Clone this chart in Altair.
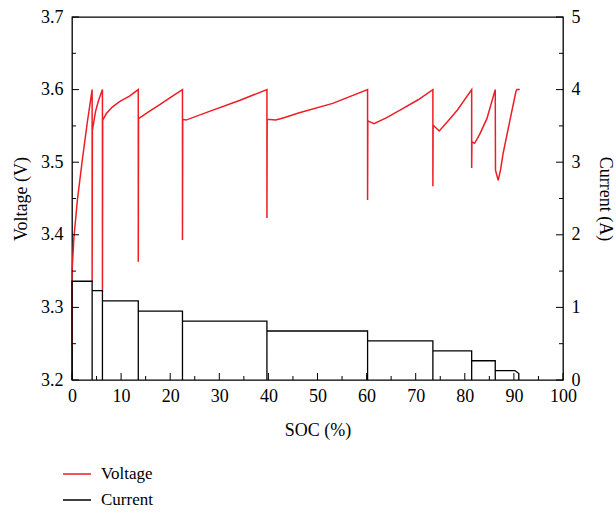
import altair as alt
import pandas as pd

# Voltage trace (SOC %, V)
v_soc = [0, 0, 0.4, 1.1, 2.1, 3.1, 4.1,
         4.1, 4.15, 4.8, 5.4, 6.2,
         6.2, 6.25, 7.0, 8.2, 9.6, 11.7, 13.5,
         13.5, 13.55, 15.5, 17.8, 20.0, 22.5,
         22.5, 22.55, 23.2, 28.0, 34.1, 39.7,
         39.7, 39.75, 41.5, 43.0, 46.3, 53.1, 60.2,
         60.2, 60.25, 61.5, 64.0, 66.9, 70.5, 73.5,
         73.5, 73.55, 74.8, 76.5, 78.5, 81.4,
         81.4, 81.45, 82.0, 83.0, 84.5, 86.2,
         86.25, 86.8, 87.3, 87.8, 89.2, 90.4, 90.6, 91.2]
v_val = [3.246, 3.349, 3.397, 3.448, 3.503, 3.554, 3.600,
         3.335, 3.544, 3.570, 3.585, 3.600,
         3.322, 3.558, 3.567, 3.576, 3.583, 3.591, 3.600,
         3.363, 3.560, 3.569, 3.579, 3.589, 3.600,
         3.393, 3.559, 3.558, 3.570, 3.585, 3.600,
         3.423, 3.559, 3.558, 3.561, 3.568, 3.581, 3.600,
         3.448, 3.557, 3.553, 3.561, 3.572, 3.586, 3.600,
         3.467, 3.551, 3.543, 3.556, 3.572, 3.600,
         3.492, 3.528, 3.526, 3.538, 3.560, 3.600,
         3.489, 3.475, 3.490, 3.512, 3.558, 3.597, 3.600, 3.600]

# Current trace (SOC %, A)
c_soc = [0, 0, 4.1, 4.1, 4.1, 6.2, 6.2, 6.2, 13.5, 13.5, 13.5, 22.5, 22.5, 22.5,
         39.7, 39.7, 39.7, 60.2, 60.2, 60.2, 73.5, 73.5, 73.5, 81.4, 81.4, 81.4,
         86.2, 86.2, 86.2, 90.2, 91.0, 91.0]
c_val = [0, 1.36, 1.36, 0, 1.23, 1.23, 0, 1.09, 1.09, 0, 0.95, 0.95, 0, 0.81,
         0.81, 0, 0.675, 0.675, 0, 0.54, 0.54, 0, 0.40, 0.40, 0, 0.265, 0.265,
         0, 0.13, 0.13, 0.09, 0]

# Tick positions
x_major = list(range(0, 101, 10))
x_minor = list(range(5, 100, 10))
v_major = [3.2, 3.3, 3.4, 3.5, 3.6, 3.7]
v_minor = [3.25, 3.35, 3.45, 3.55, 3.65]
c_major = [0, 1, 2, 3, 4, 5]
c_minor = [0.5, 1.5, 2.5, 3.5, 4.5]

V0, C_PER_V = 3.2, 10.0   # right axis: current 0..5 A maps onto 3.2..3.7 V
RED = "#ee1c25"
FONT = "Liberation Serif"
W, H = 491, 363
MAJ, MIN = 7, 4

vdf = pd.DataFrame({"soc": v_soc, "val": v_val, "i": range(len(v_soc)), "series": "Voltage"})
cdf = pd.DataFrame({"soc": c_soc, "cur": c_val, "i": range(len(c_soc)), "series": "Current"})

xscale = alt.Scale(domain=[0, 100], nice=False, zero=False)
yscale = alt.Scale(domain=[3.2, 3.7], nice=False, zero=False)

color = alt.Color("series:N",
                  scale=alt.Scale(domain=["Voltage", "Current"], range=[RED, "black"]),
                  legend=alt.Legend(title=None, orient="none", legendX=-10, legendY=442,
                                    direction="vertical", symbolType="stroke",
                                    symbolSize=784, symbolStrokeWidth=1.5,
                                    labelFont=FONT, labelFontSize=17, labelColor="black",
                                    labelOffset=9, rowPadding=3, padding=0))

lbl = dict(labelFont=FONT, labelFontSize=18, labelColor="black", labelFlush=False,
           titleFont=FONT, titleFontSize=18, titleColor="black", titleFontWeight="normal",
           grid=False, domain=False, ticks=False)

volt = alt.Chart(vdf).mark_line(strokeWidth=1.5).encode(
    x=alt.X("soc:Q", scale=xscale,
            axis=alt.Axis(orient="bottom", values=x_major, labelPadding=7,
                          title="SOC (%)", titlePadding=16, **lbl)),
    y=alt.Y("val:Q", scale=yscale,
            axis=alt.Axis(orient="left", values=v_major, labelPadding=9, format=".1f",
                          title="Voltage (V)", titlePadding=10, **lbl)),
    color=color,
    order="i:Q",
)

curr = alt.Chart(cdf).transform_calculate(
    yv=f"{V0} + datum.cur / {C_PER_V}"
).mark_line(strokeWidth=1.3).encode(
    x=alt.X("soc:Q", scale=xscale, axis=None),
    y=alt.Y("yv:Q", scale=yscale,
            axis=alt.Axis(orient="right", values=v_major, labelPadding=8,
                          labelExpr=f"format(round((datum.value - {V0}) * {C_PER_V}), 'd')",
                          title="Current (A)", titlePadding=15, **lbl)),
    color=color,
    order="i:Q",
)


def xticks(vals, size):
    return alt.Chart(pd.DataFrame({"t": vals})).mark_rule(color="black", strokeWidth=1).encode(
        x=alt.X("t:Q", scale=xscale, axis=None),
        y=alt.value(H), y2=alt.value(H - size))


def vticks(vals, size):
    return alt.Chart(pd.DataFrame({"t": vals})).mark_rule(color="black", strokeWidth=1).encode(
        y=alt.Y("t:Q", scale=yscale, axis=None),
        x=alt.value(0), x2=alt.value(size))


def cticks(vals, size):
    return alt.Chart(pd.DataFrame({"c": vals})).transform_calculate(
        t=f"{V0} + datum.c / {C_PER_V}"
    ).mark_rule(color="black", strokeWidth=1).encode(
        y=alt.Y("t:Q", scale=yscale, axis=None),
        x=alt.value(W), x2=alt.value(W - size))


chart = alt.layer(
    volt, curr,
    xticks(x_major, MAJ), xticks(x_minor, MIN),
    vticks(v_major, MAJ), vticks(v_minor, MIN),
    cticks(c_major, MAJ), cticks(c_minor, MIN),
).resolve_axis(x="independent", y="independent").properties(
    width=W, height=H,
    autosize=alt.AutoSizeParams(type="none"),
    padding={"left": 72, "top": 17, "right": 616 - 72 - W, "bottom": 513 - 17 - H},
    background="white",
).configure(font=FONT).configure_axis(labelFont=FONT, titleFont=FONT).configure_legend(
    labelFont=FONT).configure_view(stroke="black", strokeWidth=1.3)

chart.save("out.html", embed_options={"renderer": "svg", "actions": False})
